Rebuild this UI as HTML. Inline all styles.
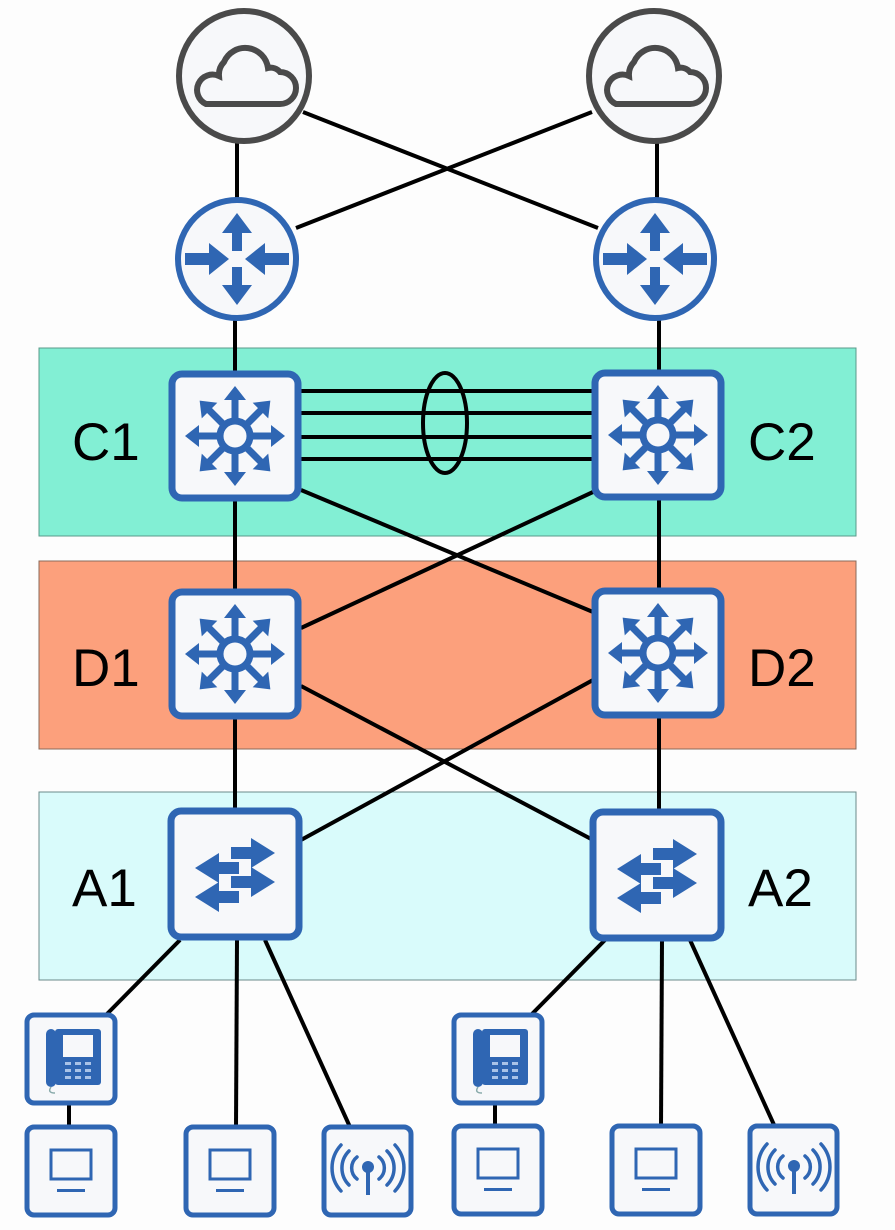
<!DOCTYPE html>
<html><head><meta charset="utf-8"><style>
html,body{margin:0;padding:0;background:#fdfdfd;}
svg{display:block;}
text{font-family:"Liberation Sans",sans-serif;font-size:53px;fill:#000;}
</style></head><body>
<svg width="895" height="1230" viewBox="0 0 895 1230" xmlns="http://www.w3.org/2000/svg">
<defs>
  <g id="ms">
    <rect x="-63" y="-62" width="126" height="124" rx="10" fill="#f7f8fa" stroke="#2f66b3" stroke-width="7"/>
    <g stroke="#2f66b3" stroke-width="7" fill="none">
      <circle r="15"/>
    </g>
    <g id="arm" fill="#2f66b3">
      <rect x="-3.5" y="-42" width="7" height="24"/>
      <polygon points="0,-50 -11,-36 11,-36"/>
    </g>
    <use href="#arm" transform="rotate(45)"/>
    <use href="#arm" transform="rotate(90)"/>
    <use href="#arm" transform="rotate(135)"/>
    <use href="#arm" transform="rotate(180)"/>
    <use href="#arm" transform="rotate(225)"/>
    <use href="#arm" transform="rotate(270)"/>
    <use href="#arm" transform="rotate(315)"/>
  </g>
  <g id="sw">
    <rect x="-64" y="-63" width="128" height="126" rx="10" fill="#f7f8fa" stroke="#2f66b3" stroke-width="7"/>
    <g fill="#2f66b3">
      <rect x="-4" y="-27" width="28" height="12"/><polygon points="16,-36 40,-21 16,-6"/>
      <rect x="-4" y="2" width="28" height="12"/><polygon points="16,-7 40,8 16,23"/>
      <rect x="-24" y="-12" width="28" height="12"/><polygon points="-16,-21 -40,-6 -16,9"/>
      <rect x="-24" y="17" width="28" height="12"/><polygon points="-16,8 -40,23 -16,38"/>
    </g>
  </g>
  <g id="rt">
    <circle r="59" fill="#f7f8fa" stroke="#2f66b3" stroke-width="6"/>
    <g fill="#2f66b3">
      <rect x="-5" y="-28" width="10" height="20"/><polygon points="0,-46 -15,-26 15,-26"/>
      <rect x="-5" y="8" width="10" height="20"/><polygon points="0,46 -15,26 15,26"/>
      <rect x="-52" y="-6" width="26" height="12"/><polygon points="-8,0 -28,-16 -28,16"/>
      <rect x="26" y="-6" width="26" height="12"/><polygon points="8,0 28,-16 28,16"/>
    </g>
  </g>
  <g id="cl">
    <circle r="65" fill="#f7f8fa" stroke="#4a4a4a" stroke-width="6"/>
    <path d="M-38,26 H36 A16,16 0 0 0 36,-6 A12,12 0 0 0 24,-10 A23,23 0 0 0 -20,-16 A18,18 0 0 0 -25,-2 A14,14 0 0 0 -38,26 Z" fill="none" stroke="#4a4a4a" stroke-width="6" transform="translate(0,2)"/>
  </g>
  <g id="pc">
    <rect x="0" y="0" width="88" height="88" rx="7" fill="#f7f8fa" stroke="#2f66b3" stroke-width="5"/>
    <rect x="24" y="23" width="40" height="29" fill="none" stroke="#2f66b3" stroke-width="3"/>
    <rect x="30" y="62" width="28" height="3" fill="#2f66b3"/>
  </g>
  <g id="ap">
    <rect x="0" y="0" width="87" height="88" rx="7" fill="#f7f8fa" stroke="#2f66b3" stroke-width="5"/>
    <circle cx="44" cy="40" r="6" fill="#2f66b3"/>
    <rect x="42" y="40" width="4" height="28" fill="#2f66b3"/>
    <g fill="none" stroke="#2f66b3" stroke-width="3.5" stroke-linecap="round">
      <path d="M33,30 A14,14 0 0 0 33,52"/><path d="M55,30 A14,14 0 0 1 55,52"/>
      <path d="M25,24 A24,24 0 0 0 25,58"/><path d="M63,24 A24,24 0 0 1 63,58"/>
      <path d="M17,18 A34,34 0 0 0 17,64"/><path d="M71,18 A34,34 0 0 1 71,64"/>
    </g>
  </g>
  <g id="ph">
    <rect x="0" y="0" width="88" height="88" rx="7" fill="#f7f8fa" stroke="#2f66b3" stroke-width="5"/>
    <rect x="28" y="14" width="46" height="56" rx="3" fill="#2f66b3"/>
    <rect x="19" y="14" width="10" height="58" rx="5" fill="#2f66b3"/>
    <rect x="36" y="20" width="30" height="22" fill="#f7f8fa"/>
    <g fill="#a9c3e8">
      <rect x="38" y="47" width="6" height="3"/><rect x="48" y="47" width="6" height="3"/><rect x="58" y="47" width="6" height="3"/>
      <rect x="38" y="54" width="6" height="3"/><rect x="48" y="54" width="6" height="3"/><rect x="58" y="54" width="6" height="3"/>
      <rect x="38" y="61" width="6" height="3"/><rect x="48" y="61" width="6" height="3"/><rect x="58" y="61" width="6" height="3"/>
    </g>
    <path d="M24,72 q-4,6 4,6" fill="none" stroke="#8aa" stroke-width="1.5"/>
  </g>
</defs>

<rect x="39" y="348" width="817" height="188" fill="#82efd4" stroke="#5a9a8a" stroke-width="1"/>
<rect x="39" y="561" width="817" height="188" fill="#fca07c" stroke="#8a6a5a" stroke-width="1"/>
<rect x="39" y="792" width="817" height="188" fill="#d9fbfb" stroke="#6a8a8a" stroke-width="1"/>

<g stroke="#000" stroke-width="4" fill="none">
  <line x1="237" y1="140" x2="237" y2="200"/>
  <line x1="657" y1="140" x2="657" y2="200"/>
  <line x1="303" y1="112" x2="598" y2="228"/>
  <line x1="592" y1="112" x2="296" y2="228"/>
  <line x1="235" y1="318" x2="235" y2="372"/>
  <line x1="659" y1="318" x2="659" y2="372"/>
  <line x1="301" y1="391" x2="593" y2="391"/>
  <line x1="301" y1="413" x2="593" y2="413"/>
  <line x1="301" y1="437" x2="593" y2="437"/>
  <line x1="301" y1="459" x2="593" y2="459"/>
  <ellipse cx="445" cy="423" rx="22" ry="50"/>
  <line x1="235" y1="500" x2="235" y2="590"/>
  <line x1="659" y1="500" x2="659" y2="590"/>
  <line x1="301" y1="490" x2="593" y2="612"/>
  <line x1="593" y1="492" x2="301" y2="628"/>
  <line x1="235" y1="718" x2="235" y2="810"/>
  <line x1="659" y1="718" x2="659" y2="810"/>
  <line x1="301" y1="686" x2="593" y2="840"/>
  <line x1="593" y1="680" x2="301" y2="840"/>
  <line x1="180" y1="940" x2="105" y2="1016"/>
  <line x1="237" y1="940" x2="236" y2="1127"/>
  <line x1="265" y1="940" x2="350" y2="1127"/>
  <line x1="69" y1="1100" x2="69" y2="1127"/>
  <line x1="605" y1="940" x2="530" y2="1016"/>
  <line x1="662" y1="940" x2="661" y2="1127"/>
  <line x1="690" y1="940" x2="775" y2="1127"/>
  <line x1="495" y1="1100" x2="495" y2="1127"/>
</g>

<use href="#cl" x="244" y="76"/>
<use href="#cl" x="654" y="76"/>
<use href="#rt" x="237" y="259"/>
<use href="#rt" x="655" y="259"/>
<use href="#ms" x="235" y="436"/>
<use href="#ms" x="658" y="435"/>
<use href="#ms" x="235" y="654"/>
<use href="#ms" x="658" y="653"/>
<use href="#sw" x="235" y="874"/>
<use href="#sw" x="657" y="875"/>

<use href="#ph" x="27" y="1015"/>
<use href="#pc" x="27" y="1127"/>
<use href="#pc" x="186" y="1127"/>
<use href="#ap" x="324" y="1127"/>
<use href="#ph" x="454" y="1015"/>
<use href="#pc" x="454" y="1126"/>
<use href="#pc" x="612" y="1126"/>
<use href="#ap" x="750" y="1126"/>

<text x="72" y="460">C1</text>
<text x="748" y="460">C2</text>
<text x="72" y="686">D1</text>
<text x="748" y="686">D2</text>
<text x="72" y="906">A1</text>
<text x="748" y="906">A2</text>
</svg>
</body></html>
